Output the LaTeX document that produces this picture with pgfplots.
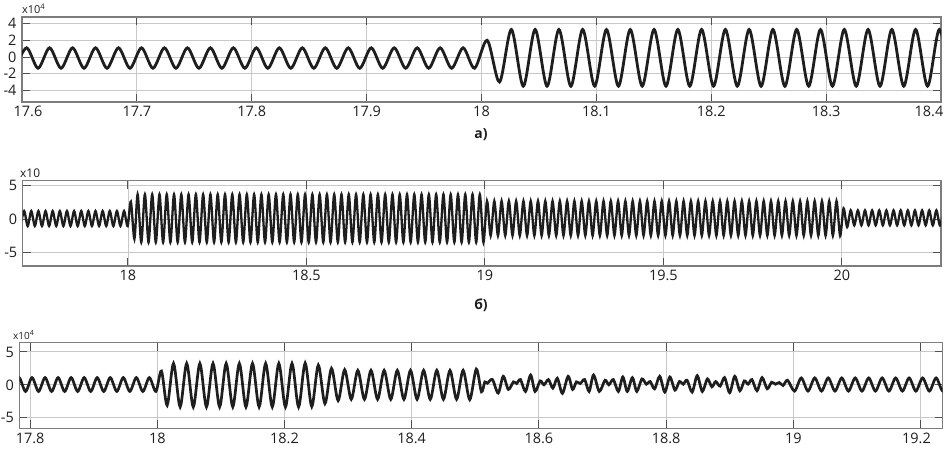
\documentclass[border=0pt]{standalone}
\usepackage{fontspec}
\setmainfont{Open Sans}
\usepackage{pgfplots}
\pgfplotsset{compat=1.18}
\definecolor{gridc}{RGB}{200,200,200}
\definecolor{boxc}{RGB}{125,125,125}
\definecolor{tickc}{RGB}{80,80,80}
\definecolor{wave}{RGB}{30,30,30}
\definecolor{txt}{RGB}{30,30,30}
\pgfplotsset{mat/.style={scale only axis, anchor=north west, tick align=inside, tick pos=both,
  major tick length=8bp, grid=major, major grid style={draw=gridc, line width=0.9bp},
  axis line style={draw=boxc, line width=1.4bp}, major tick style={draw=tickc, line width=1bp},
  tick label style={font=\fontsize{14.5}{16}\selectfont, text=txt},
  xticklabel style={yshift=-1bp}, yticklabel style={xshift=-2bp}}}
\begin{document}
\begin{tikzpicture}
% ---------------- panel a ----------------
\begin{axis}[mat, at={(22bp,-17bp)}, width=919bp, height=85bp,
  xmin=17.6, xmax=18.4, ymin=-5.4, ymax=4.8,
  xtick={17.6,17.7,17.8,17.9,18,18.1,18.2,18.3,18.4},
  xticklabels={\makebox[0pt]{\hspace{12bp}17.6},17.7,17.8,17.9,18,18.1,18.2,18.3,\makebox[0pt]{\hspace{-24bp}18.4}},
  ytick={-4,-2,0,2,4}, yticklabels={-4,-2,0,2,4}]
\addplot[draw=wave, line width=2.8bp, smooth] coordinates {
(17.594,-1.35) (17.604,1.1) (17.614,-1.35) (17.624,1.1) (17.634,-1.35) (17.644,1.1) (17.654,-1.35) (17.664,1.1) (17.674,-1.35) (17.684,1.1) (17.694,-1.35) (17.704,1.1) (17.714,-1.35) (17.724,1.1) (17.734,-1.35) (17.744,1.1) (17.754,-1.35) (17.764,1.1) (17.774,-1.35) (17.784,1.1) (17.794,-1.35) (17.804,1.1) (17.814,-1.35) (17.824,1.1) (17.834,-1.35) (17.844,1.1) (17.854,-1.35) (17.864,1.1) (17.874,-1.35) (17.884,1.1) (17.894,-1.35) (17.904,1.1) (17.914,-1.35) (17.924,1.1) (17.934,-1.35) (17.944,1.1) (17.954,-1.35) (17.964,1.1) (17.974,-1.35) (17.984,1.1) (17.994,-1.35)
(18.005,2.0) (18.0157,-3.0) (18.026,3.3) (18.0364,-3.5) (18.0467,3.3) (18.0571,-3.5) (18.0674,3.3) (18.0778,-3.5) (18.0881,3.3) (18.0985,-3.5) (18.1088,3.3) (18.1192,-3.5) (18.1295,3.3) (18.1399,-3.5) (18.1502,3.3) (18.1606,-3.5) (18.1709,3.3) (18.1813,-3.5) (18.1916,3.3) (18.2020,-3.5) (18.2123,3.3) (18.2227,-3.5) (18.2330,3.3) (18.2434,-3.5) (18.2537,3.3) (18.2641,-3.5) (18.2744,3.3) (18.2848,-3.5) (18.2951,3.3) (18.3055,-3.5) (18.3158,3.3) (18.3262,-3.5) (18.3365,3.3) (18.3469,-3.5) (18.3572,3.3) (18.3676,-3.5) (18.3779,3.3) (18.3883,-3.5) (18.3986,3.3) (18.4090,-3.5)
};
\end{axis}
% ---------------- panel b ----------------
\begin{axis}[mat, at={(22.7bp,-180.7bp)}, width=918.3bp, height=85.3bp,
  xmin=17.705, xmax=20.278, ymin=-7.05, ymax=5.75,
  xtick={18,18.5,19,19.5,20}, xticklabels={18,18.5,19,19.5,20},
  ytick={-5,0,5}, yticklabels={-5,0,5}]
\addplot[draw=wave, line width=2.3bp, smooth] coordinates {
(17.699,-1.05) (17.709,1.2) (17.719,-1.05) (17.729,1.2) (17.739,-1.05) (17.749,1.2) (17.759,-1.05) (17.769,1.2) (17.779,-1.05) (17.789,1.2) (17.799,-1.05) (17.809,1.2) (17.819,-1.05) (17.829,1.2) (17.839,-1.05) (17.849,1.2) (17.859,-1.05) (17.869,1.2) (17.879,-1.05) (17.889,1.2) (17.899,-1.05) (17.909,1.2) (17.919,-1.05) (17.929,1.2) (17.939,-1.05) (17.949,1.2) (17.959,-1.05) (17.969,1.2) (17.979,-1.05) (17.989,1.2) (17.999,-1.05)
(18.008,2.6) (18.018,-3.0)
(18.0270,3.7) (18.0372,-3.5) (18.0474,3.7) (18.0576,-3.5) (18.0678,3.7) (18.0780,-3.5) (18.0882,3.7) (18.0984,-3.5) (18.1086,3.7) (18.1188,-3.5) (18.1290,3.7) (18.1392,-3.5) (18.1494,3.7) (18.1596,-3.5) (18.1698,3.7) (18.1800,-3.5) (18.1902,3.7) (18.2004,-3.5) (18.2106,3.7) (18.2208,-3.5) (18.2310,3.7) (18.2412,-3.5) (18.2514,3.7) (18.2616,-3.5) (18.2718,3.7) (18.2820,-3.5) (18.2922,3.7) (18.3024,-3.5) (18.3126,3.7) (18.3228,-3.5) (18.3330,3.7) (18.3432,-3.5) (18.3534,3.7) (18.3636,-3.5) (18.3738,3.7) (18.3840,-3.5) (18.3942,3.7) (18.4044,-3.5) (18.4146,3.7) (18.4248,-3.5) (18.4350,3.7) (18.4452,-3.5) (18.4554,3.7) (18.4656,-3.5) (18.4758,3.7) (18.4860,-3.5) (18.4962,3.7) (18.5064,-3.5) (18.5166,3.7) (18.5268,-3.5) (18.5370,3.7) (18.5472,-3.5) (18.5574,3.7) (18.5676,-3.5) (18.5778,3.7) (18.5880,-3.5) (18.5982,3.7) (18.6084,-3.5) (18.6186,3.7) (18.6288,-3.5) (18.6390,3.7) (18.6492,-3.5) (18.6594,3.7) (18.6696,-3.5) (18.6798,3.7) (18.6900,-3.5) (18.7002,3.7) (18.7104,-3.5) (18.7206,3.7) (18.7308,-3.5) (18.7410,3.7) (18.7512,-3.5) (18.7614,3.7) (18.7716,-3.5) (18.7818,3.7) (18.7920,-3.5) (18.8022,3.7) (18.8124,-3.5) (18.8226,3.7) (18.8328,-3.5) (18.8430,3.7) (18.8532,-3.5) (18.8634,3.7) (18.8736,-3.5) (18.8838,3.7) (18.8940,-3.5) (18.9042,3.7) (18.9144,-3.5) (18.9246,3.7) (18.9348,-3.5) (18.9450,3.7) (18.9552,-3.5) (18.9654,3.7) (18.9756,-3.5) (18.9858,3.7) (18.9960,-3.5)
(19.0060,2.7) (19.0162,-2.5) (19.0264,2.7) (19.0366,-2.5) (19.0468,2.7) (19.0570,-2.5) (19.0672,2.7) (19.0774,-2.5) (19.0876,2.7) (19.0978,-2.5) (19.1080,2.7) (19.1182,-2.5) (19.1284,2.7) (19.1386,-2.5) (19.1488,2.7) (19.1590,-2.5) (19.1692,2.7) (19.1794,-2.5) (19.1896,2.7) (19.1998,-2.5) (19.2100,2.7) (19.2202,-2.5) (19.2304,2.7) (19.2406,-2.5) (19.2508,2.7) (19.2610,-2.5) (19.2712,2.7) (19.2814,-2.5) (19.2916,2.7) (19.3018,-2.5) (19.3120,2.7) (19.3222,-2.5) (19.3324,2.7) (19.3426,-2.5) (19.3528,2.7) (19.3630,-2.5) (19.3732,2.7) (19.3834,-2.5) (19.3936,2.7) (19.4038,-2.5) (19.4140,2.7) (19.4242,-2.5) (19.4344,2.7) (19.4446,-2.5) (19.4548,2.7) (19.4650,-2.5) (19.4752,2.7) (19.4854,-2.5) (19.4956,2.7) (19.5058,-2.5) (19.5160,2.7) (19.5262,-2.5) (19.5364,2.7) (19.5466,-2.5) (19.5568,2.7) (19.5670,-2.5) (19.5772,2.7) (19.5874,-2.5) (19.5976,2.7) (19.6078,-2.5) (19.6180,2.7) (19.6282,-2.5) (19.6384,2.7) (19.6486,-2.5) (19.6588,2.7) (19.6690,-2.5) (19.6792,2.7) (19.6894,-2.5) (19.6996,2.7) (19.7098,-2.5) (19.7200,2.7) (19.7302,-2.5) (19.7404,2.7) (19.7506,-2.5) (19.7608,2.7) (19.7710,-2.5) (19.7812,2.7) (19.7914,-2.5) (19.8016,2.7) (19.8118,-2.5) (19.8220,2.7) (19.8322,-2.5) (19.8424,2.7) (19.8526,-2.5) (19.8628,2.7) (19.8730,-2.5) (19.8832,2.7) (19.8934,-2.5) (19.9036,2.7) (19.9138,-2.5) (19.9240,2.7) (19.9342,-2.5) (19.9444,2.7) (19.9546,-2.5) (19.9648,2.7) (19.9750,-2.5) (19.9852,2.7) (19.9954,-2.5)
(20.005,1.6) (20.015,-1.2)
(20.025,1.3) (20.035,-0.95) (20.045,1.3) (20.055,-0.95) (20.065,1.3) (20.075,-0.95) (20.085,1.3) (20.095,-0.95) (20.105,1.3) (20.115,-0.95) (20.125,1.3) (20.135,-0.95) (20.145,1.3) (20.155,-0.95) (20.165,1.3) (20.175,-0.95) (20.185,1.3) (20.195,-0.95) (20.205,1.3) (20.215,-0.95) (20.225,1.3) (20.235,-0.95) (20.245,1.3) (20.255,-0.95) (20.265,1.3) (20.275,-0.95) (20.285,1.3)
};
\end{axis}
% ---------------- panel c ----------------
\begin{axis}[mat, at={(19.3bp,-342.7bp)}, width=923.4bp, height=85.6bp,
  xmin=17.783, xmax=19.235, ymin=-6.6, ymax=6.4,
  xtick={17.8,18,18.2,18.4,18.6,18.8,19,19.2},
  xticklabels={17.8,18,18.2,18.4,18.6,18.8,19,\makebox[0pt]{\hspace{-8bp}19.2}},
  ytick={-5,0,5}, yticklabels={-5,0,5}]
\addplot[draw=wave, line width=2.7bp, smooth] coordinates {
(17.7723,-1.0) (17.7825,1.1) (17.7928,-1.0) (17.8030,1.1) (17.8133,-1.0) (17.8235,1.1) (17.8338,-1.0) (17.8440,1.1) (17.8543,-1.0) (17.8645,1.1) (17.8748,-1.0) (17.8850,1.1) (17.8953,-1.0) (17.9055,1.1) (17.9158,-1.0) (17.9260,1.1) (17.9363,-1.0) (17.9465,1.1) (17.9568,-1.0) (17.9670,1.1) (17.9773,-1.0) (17.9875,1.1) (17.9978,-1.0)
(18.0065,2.1) (18.0155,-3.1)
(18.0255,3.25) (18.0359,-3.35) (18.0462,3.25) (18.0566,-3.35) (18.0669,3.25) (18.0773,-3.35) (18.0876,3.25) (18.0980,-3.35) (18.1083,3.25) (18.1187,-3.35) (18.1290,3.25) (18.1394,-3.35) (18.1497,3.25) (18.1601,-3.35) (18.1704,3.25) (18.1808,-3.35) (18.1911,3.25) (18.2015,-3.35) (18.2118,3.25) (18.2222,-3.35) (18.2325,3.3) (18.2429,-3.3) (18.2532,3.0) (18.2636,-2.85) (18.2739,2.5) (18.2843,-2.4) (18.2946,2.3) (18.3050,-2.2) (18.3153,2.2) (18.3257,-2.2) (18.3360,2.2) (18.3464,-2.2) (18.3567,2.2) (18.3671,-2.2) (18.3774,2.2) (18.3878,-2.2) (18.3981,2.2) (18.4085,-2.2) (18.4188,2.2) (18.4292,-2.2) (18.4395,2.2) (18.4499,-2.2) (18.4602,2.2) (18.4706,-2.2) (18.4809,2.2) (18.4913,-2.25) (18.5016,2.4)
(18.5097,-1.05) (18.515,0.45) (18.519,0.25) (18.527,0.8) (18.536,-1.25) (18.544,1.3) (18.552,-0.7) (18.560,0.45) (18.565,0.2) (18.571,0.8) (18.579,-1.0) (18.587,1.5) (18.594,-1.0) (18.602,0.6) (18.608,0.0) (18.615,0.8) (18.622,-0.5) (18.629,1.0) (18.637,-1.3) (18.646,1.3) (18.653,-0.7) (18.659,0.45) (18.665,0.2) (18.672,0.8) (18.679,-1.0) (18.686,1.5) (18.695,-1.0) (18.704,0.7) (18.710,0.0) (18.717,0.8) (18.725,-1.0) (18.732,1.2) (18.739,-1.0) (18.747,1.1) (18.754,-1.0)
(18.762,0.9) (18.769,0.1) (18.775,0.5) (18.782,-0.6) (18.790,1.3) (18.798,-1.1) (18.806,1.2) (18.814,-0.8) (18.821,0.5) (18.827,0.1) (18.833,0.7) (18.841,-1.1) (18.849,1.4) (18.857,-1.0) (18.865,0.9) (18.872,-0.3) (18.878,0.5) (18.885,-0.2) (18.892,1.1) (18.900,-1.2) (18.908,1.3) (18.916,-0.9) (18.923,0.6) (18.929,0.1) (18.935,0.8) (18.943,-0.9) (18.951,1.1) (18.959,-0.6) (18.966,0.4) (18.972,0.1) (18.978,0.35) (18.984,-0.1) (18.991,0.7)
(19.0020,-0.95) (19.0126,1.05) (19.0232,-0.95) (19.0338,1.05) (19.0444,-0.95) (19.0550,1.05) (19.0656,-0.95) (19.0762,1.05) (19.0868,-0.95) (19.0974,1.05) (19.1080,-0.95) (19.1186,1.05) (19.1292,-0.95) (19.1398,1.05) (19.1504,-0.95) (19.1610,1.05) (19.1716,-0.95) (19.1822,1.05) (19.1928,-0.95) (19.2034,1.05) (19.2140,-0.95) (19.2246,1.05) (19.2352,-0.95) (19.2458,1.05)
};
\end{axis}
% ---------------- labels ----------------
\node[anchor=base west, inner sep=0, text=txt, font=\fontsize{11}{12}\selectfont] at (22bp,-13bp) {x10\textsuperscript{4}};
\node[anchor=base west, inner sep=0, text=txt, font=\fontsize{12}{13}\selectfont] at (20bp,-177bp) {x10};
\node[anchor=base west, inner sep=0, text=txt, font=\fontsize{10}{11}\selectfont] at (13bp,-339bp) {x10\textsuperscript{4}};
\node[text=txt, font=\bfseries\fontsize{14}{16}\selectfont] at (481bp,-135bp) {а)};
\node[text=txt, font=\bfseries\fontsize{14}{16}\selectfont] at (481bp,-305bp) {б)};
\pgfresetboundingbox
\path[use as bounding box] (0,0) rectangle (948bp,-455bp);
\end{tikzpicture}
\end{document}
